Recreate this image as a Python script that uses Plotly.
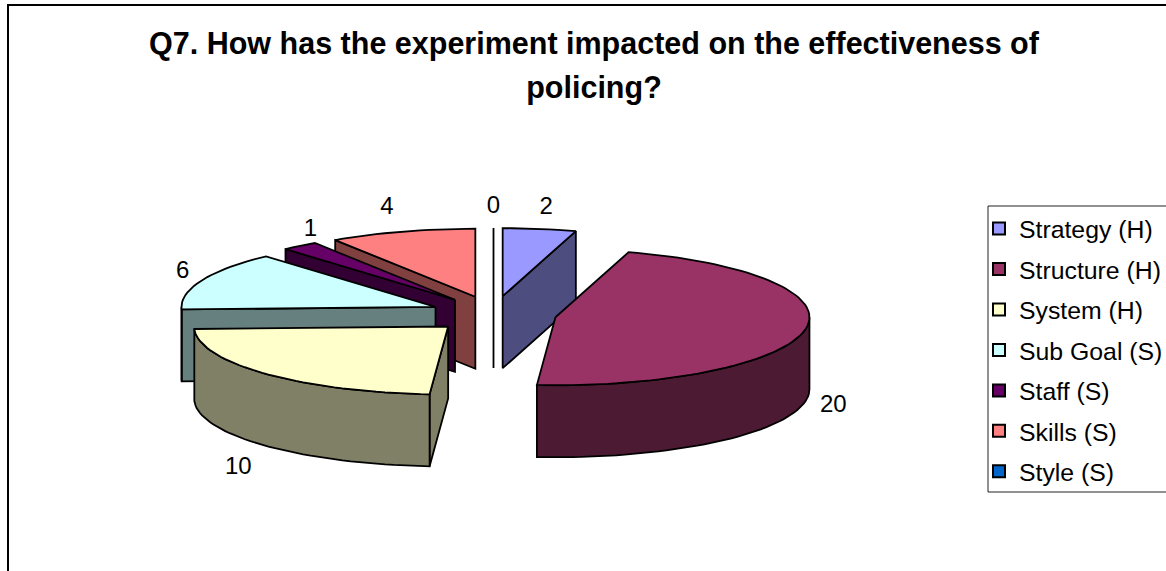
import math
import plotly.graph_objects as go

categories = ["Strategy (H)", "Structure (H)", "System (H)", "Sub Goal (S)", "Staff (S)", "Skills (S)", "Style (S)"]
values = [2, 20, 10, 6, 1, 4, 0]
top_colors = ["#9999FF", "#993366", "#FFFFCC", "#CCFFFF", "#660066", "#FF8080", "#0066CC"]
side_colors = ["#4D4D80", "#4D1A33", "#808066", "#668080", "#330033", "#804040", "#003366"]
title_lines = ["Q7. How has the experiment impacted on the effectiveness of", "policing?"]

W, H = 1166, 571
CX, CY = 493.5, 314    # pie centre in pixels
A, B = 254, 68         # ellipse radii
DEPTH = 72             # thickness
EX, EY = 63, 18        # explosion distance
LABEL_GAP = 25
LINE = dict(color="black", width=1.8)
FONT = "Liberation Sans, Arial, sans-serif"
label_nudge = {
    "Strategy (H)": (3, 4),
    "Structure (H)": (3.5, 0),
    "System (H)": (-9, 5),
    "Sub Goal (S)": (4, 1),
    "Staff (S)": (26, 4),
    "Skills (S)": (-8, 0),
    "Style (S)": (0, 4),
}
draw_order = [5, 6, 4, 3, 2, 0, 1]

total = sum(values)
spans = []
acc = 0.0
for v in values:
    start = acc
    acc += v / total * 360
    spans.append((start, acc))


def project(theta, off, dz=0.0):
    t = math.radians(theta)
    return off[0] + A * math.sin(t), off[1] - B * math.cos(t) + dz


def arc(a0, a1, off, dz=0.0):
    n = max(2, int(abs(a1 - a0) / 2) + 1)
    return [project(a0 + (a1 - a0) * i / (n - 1), off, dz) for i in range(n)]


def poly(fig, pts, color):
    xs = [p[0] for p in pts] + [pts[0][0]]
    ys = [p[1] for p in pts] + [pts[0][1]]
    fig.add_trace(go.Scatter(x=xs, y=ys, mode="lines", fill="toself", fillcolor=color,
                             line=LINE, showlegend=False, hoverinfo="skip"))


fig = go.Figure()

for i in draw_order:
    s, e = spans[i]
    m = math.radians((s + e) / 2)
    apex = (CX + EX * math.sin(m), CY - EY * math.cos(m))
    for theta, visible in ((s, s >= 180), (e, e < 180)):
        if visible:
            p = project(theta, apex)
            poly(fig, [apex, p, (p[0], p[1] + DEPTH), (apex[0], apex[1] + DEPTH)], side_colors[i])
    r0, r1 = max(s, 90), min(e, 270)
    if r1 > r0:
        poly(fig, arc(r0, r1, apex) + arc(r1, r0, apex, DEPTH), side_colors[i])
    if e > s:
        poly(fig, [apex] + arc(s, e, apex), top_colors[i])

# data labels
lx, ly, lt = [], [], []
for i, v in enumerate(values):
    s, e = spans[i]
    mid = (s + e) / 2
    t = math.radians(mid)
    x = CX + (EX + A + LABEL_GAP) * math.sin(t)
    y = CY - (EY + B + LABEL_GAP) * math.cos(t)
    if 90 < mid < 270:
        y += DEPTH
    nx, ny = label_nudge.get(categories[i], (0, 0))
    lx.append(x + nx)
    ly.append(y + ny)
    lt.append(str(v))
fig.add_trace(go.Scatter(x=lx, y=ly, text=lt, mode="text", textposition="middle center",
                         textfont=dict(family=FONT, size=24, color="black"),
                         showlegend=False, hoverinfo="skip"))

# legend entries
for i, c in enumerate(categories):
    fig.add_trace(go.Scatter(x=[None], y=[None], mode="markers", name=c, legendgroup=c,
                             marker=dict(symbol="square", size=13, color=top_colors[i],
                                         line=dict(color="black", width=1.5))))

title_html = "<br>".join(f'<span style="font-size:30.5px">{t}</span>' for t in title_lines)
fig.update_layout(
    width=W, height=H, autosize=False,
    margin=dict(l=0, r=0, t=0, b=0, autoexpand=False),
    paper_bgcolor="white", plot_bgcolor="white",
    title=dict(text=title_html, x=594 / W, xanchor="center", y=1 - 54 / H, yanchor="top",
               font=dict(family=FONT, size=34, color="black", weight="bold")),
    xaxis=dict(range=[0, W], visible=False, fixedrange=True),
    yaxis=dict(range=[H, 0], visible=False, fixedrange=True),
    legend=dict(x=979 / W, xanchor="left", y=1 - 206 / H, yanchor="top",
                font=dict(family=FONT, size=24.8, color="black"),
                bgcolor="rgba(0,0,0,0)", borderwidth=0, tracegroupgap=5.2,
                itemsizing="constant", traceorder="grouped"),
    shapes=[
        dict(type="rect", xref="paper", yref="paper", x0=988 / W, x1=1 + 5 / W,
             y0=1 - 492 / H, y1=1 - 206 / H, line=dict(color="#222222", width=1), layer="below"),
        dict(type="path", xref="paper", yref="paper",
             path=f"M {8 / W} 0 L {8 / W} {1 - 5 / H} L 1 {1 - 5 / H}",
             line=dict(color="black", width=2)),
    ],
)
fig.write_html("out.html", config={"displayModeBar": False},
               post_script="document.body.style.margin='0';document.body.style.overflow='hidden';")
